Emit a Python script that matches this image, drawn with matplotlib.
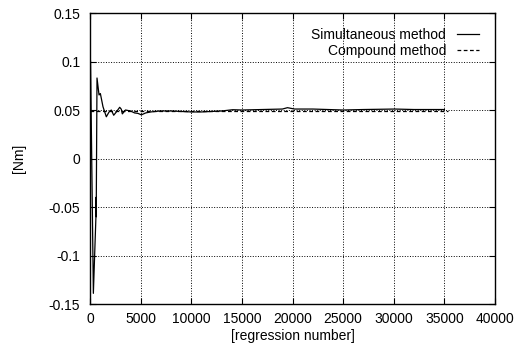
"""
Torque estimate vs regression number, simultaneous vs compound method.
"""
import matplotlib
matplotlib.use("Agg")
import matplotlib.pyplot as plt

# values
SIMUL_X = [0, 50, 330, 590, 600, 610, 690, 890, 1020, 1280, 1610, 1880,
           2100, 2340, 2600, 2930, 3090, 3190, 3500, 4000, 4400, 4740,
           5070, 5500, 6000, 6900, 8000, 9000, 10000, 11000, 12000, 13000,
           14100, 15000, 17000, 19000, 19500, 20200, 22000, 25000, 27000,
           30100, 32000, 35000]
SIMUL_Y = [0.105, 0.100, -0.139, -0.058, -0.040, -0.060, 0.083, 0.0655,
           0.067, 0.0534, 0.043, 0.048, 0.050, 0.0446, 0.048, 0.0528,
           0.0508, 0.046, 0.050, 0.049, 0.047, 0.0465, 0.045, 0.047, 0.048,
           0.049, 0.049, 0.0485, 0.048, 0.048, 0.0485, 0.049, 0.0503, 0.050,
           0.0505, 0.051, 0.0524, 0.051, 0.051, 0.050, 0.0505, 0.051,
           0.0505, 0.0505]

COMPOUND_X = [0, 35400]
COMPOUND_Y = [0.0485, 0.0485]

X_TICKS = [0, 5000, 10000, 15000, 20000, 25000, 30000, 35000, 40000]
Y_TICKS = [-0.15, -0.1, -0.05, 0, 0.05, 0.1, 0.15]
Y_TICK_LABELS = ["-0.15", "-0.1", "-0.05", "0", "0.05", "0.1", "0.15"]

plt.rcParams["font.family"] = ["Liberation Sans", "DejaVu Sans"]
plt.rcParams["font.size"] = 10

fig = plt.figure(figsize=(5.24, 3.45), dpi=100)
ax = fig.add_axes([0.1718, 0.1188, 0.7729, 0.8435])

ax.plot(SIMUL_X, SIMUL_Y, color="black", linewidth=0.9,
        label="Simultaneous method")
ax.plot(COMPOUND_X, COMPOUND_Y, color="black", linewidth=0.9,
        linestyle=(0, (3, 2)), label="Compound method")

ax.set_xlim(0, 40000)
ax.set_ylim(-0.15, 0.15)
ax.set_xticks(X_TICKS)
ax.set_yticks(Y_TICKS)
ax.set_yticklabels(Y_TICK_LABELS)
ax.grid(True, color="black", linestyle=":", linewidth=0.7)
ax.tick_params(direction="in", top=True, right=True, length=4, width=0.8)
ax.tick_params(axis="x", pad=6)
ax.tick_params(axis="y", pad=7)
for spine in ax.spines.values():
    spine.set_linewidth(1.0)

ax.set_xlabel("[regression number]", labelpad=2)
ax.set_ylabel("[Nm]", labelpad=16)

ax.legend(loc="upper right", frameon=False, markerfirst=False,
          handlelength=1.6, handletextpad=0.8, labelspacing=0.2,
          borderaxespad=0.0, bbox_to_anchor=(0.975, 0.969))

fig.savefig("out.png", dpi=100)
